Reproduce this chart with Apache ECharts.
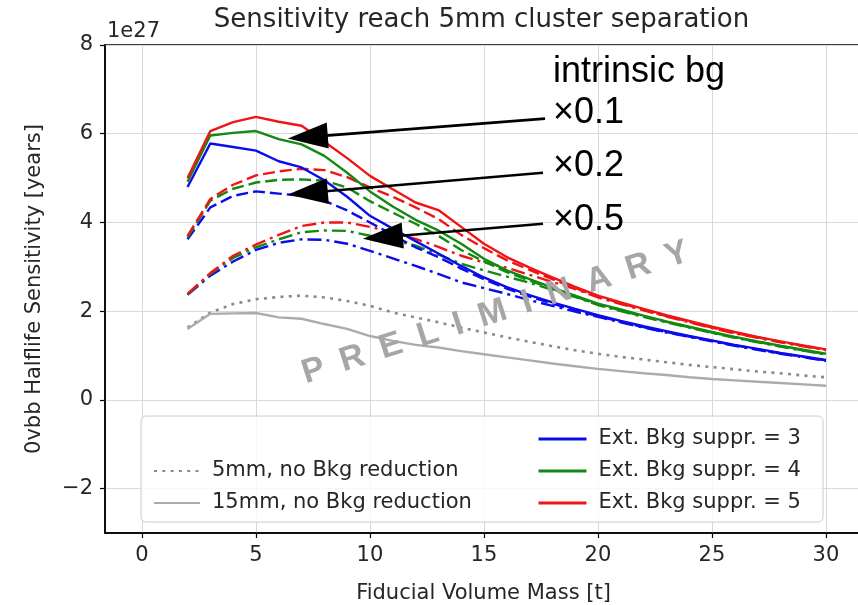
<!DOCTYPE html>
<html><head><meta charset="utf-8">
<script src="https://cdn.jsdelivr.net/npm/echarts@6/dist/echarts.min.js"></script>
<style>html,body{margin:0;padding:0;background:#fff}#c{width:858px;height:605px}</style>
</head><body><div id="c"></div>
<script>
// ---- data (values in units of 1e27 years) ----
const massT = [2,3,4,5,6,7,8,9,10,11,12,13,14,15,16,17,18,19,20,21,22,23,24,25,26,27,28,29,30];
const xTicks = [0,5,10,15,20,25,30];
const yTicks = [-2,0,2,4,6,8];
const supprLabels = ['Ext. Bkg suppr. = 3','Ext. Bkg suppr. = 4','Ext. Bkg suppr. = 5'];
const refLabels = ['5mm, no Bkg reduction','15mm, no Bkg reduction'];

// intrinsic bg x0.1 (solid)
const blue01  = [4.80,5.78,5.70,5.62,5.38,5.24,4.95,4.58,4.15,3.86,3.58,3.30,3.02,2.76,2.54,2.36,2.20,2.05,1.91,1.78,1.66,1.55,1.44,1.34,1.24,1.15,1.06,0.98,0.90];
const green01 = [4.92,5.96,6.02,6.06,5.88,5.76,5.50,5.12,4.70,4.36,4.06,3.82,3.52,3.18,2.92,2.72,2.53,2.35,2.17,2.04,1.90,1.77,1.65,1.53,1.42,1.32,1.22,1.13,1.04];
const red01   = [5.00,6.06,6.26,6.38,6.27,6.18,5.82,5.45,5.05,4.75,4.45,4.28,3.90,3.52,3.22,2.98,2.76,2.55,2.35,2.20,2.05,1.91,1.78,1.65,1.53,1.42,1.32,1.23,1.14];
// intrinsic bg x0.2 (dashed)
const blue02  = [3.62,4.34,4.60,4.70,4.65,4.60,4.49,4.27,4.00,3.72,3.44,3.22,2.96,2.72,2.51,2.33,2.17,2.02,1.89,1.76,1.64,1.53,1.43,1.33,1.23,1.14,1.05,0.97,0.89];
const green02 = [3.66,4.49,4.76,4.90,4.96,4.97,4.94,4.79,4.48,4.22,3.97,3.70,3.38,3.12,2.88,2.69,2.50,2.33,2.15,2.02,1.88,1.76,1.64,1.52,1.41,1.31,1.21,1.12,1.03];
const red02   = [3.70,4.53,4.85,5.06,5.15,5.21,5.18,5.02,4.79,4.58,4.34,4.08,3.72,3.42,3.15,2.93,2.72,2.52,2.33,2.18,2.03,1.89,1.76,1.63,1.51,1.41,1.31,1.22,1.13];
// intrinsic bg x0.5 (dash-dot)
const blue05  = [2.37,2.80,3.12,3.38,3.54,3.62,3.61,3.52,3.36,3.19,3.02,2.84,2.65,2.52,2.39,2.25,2.12,1.99,1.87,1.75,1.63,1.52,1.42,1.32,1.22,1.13,1.04,0.96,0.88];
const green05 = [2.38,2.84,3.20,3.44,3.62,3.78,3.82,3.81,3.70,3.60,3.48,3.28,3.07,2.92,2.78,2.64,2.48,2.32,2.14,2.00,1.87,1.75,1.63,1.51,1.40,1.30,1.20,1.11,1.02];
const red05   = [2.39,2.86,3.25,3.50,3.72,3.92,4.00,4.00,3.90,3.78,3.63,3.45,3.25,3.10,2.98,2.82,2.66,2.50,2.31,2.16,2.02,1.88,1.75,1.62,1.50,1.40,1.30,1.21,1.12];
// no background reduction
const gray5mm  = [1.63,1.97,2.16,2.27,2.32,2.35,2.31,2.23,2.12,1.97,1.86,1.75,1.63,1.52,1.41,1.31,1.21,1.12,1.04,0.97,0.91,0.85,0.79,0.74,0.69,0.64,0.60,0.55,0.51];
const gray15mm = [1.60,1.94,1.95,1.96,1.86,1.83,1.71,1.60,1.44,1.33,1.24,1.18,1.10,1.03,0.96,0.89,0.82,0.76,0.70,0.65,0.60,0.56,0.51,0.47,0.44,0.41,0.38,0.35,0.32];

// annotations (data coordinates)
const annotTexts = ['intrinsic bg','×0.1','×0.2','×0.5'];
const annotAt = [[18.03,7.38],[18.03,6.46],[18.03,5.26],[18.03,4.06]];
const arrowTip = [[6.40,5.89],[6.40,4.63],[9.69,3.63]];
const arrowTail = [[17.68,6.34],[17.59,5.12],[17.59,3.97]];
const watermark = 'P\u2002R\u2002E\u2002L\u2002I\u2002M\u2002I\u2002N\u2002A\u2002R\u2002Y';
const watermarkAt = [15.5, 1.96];

// ---- styles ----
const FONT = 'DejaVu Sans';
const C = {blue:'#0b0bec', green:'#118a11', red:'#f01414'};
const DASH = [12,5], DASHDOT = [14,5,3,5], DOT = [3,5.3];
const pairs = arr => arr.map((v,i)=>[massT[i], v]);

function line(name, data, color, type, width, z){
  return {name, type:'line', data:pairs(data), symbol:'none', showSymbol:false, z:z||2,
    lineStyle:{color, width:width||2.4, type:type||'solid', cap:'butt'}, itemStyle:{color},
    emphasis:{disabled:true}, silent:true};
}

const series = [
  line(refLabels[0], gray5mm, '#8a8a8a', DOT, 2.6),
  line(refLabels[1], gray15mm, '#ababab', 'solid', 2.4),
  line('b05', blue05, C.blue, DASHDOT), line('g05', green05, C.green, DASHDOT), line('r05', red05, C.red, DASHDOT),
  line('b02', blue02, C.blue, DASH), line('g02', green02, C.green, DASH), line('r02', red02, C.red, DASH),
  line(supprLabels[0], blue01, C.blue), line(supprLabels[1], green01, C.green), line(supprLabels[2], red01, C.red),
];

const chart = echarts.init(document.getElementById('c'));
const legendText = {fontFamily:FONT, fontSize:21, color:'#262626', padding:[0,0,0,7], lineHeight:22};
chart.setOption({
  animation:false,
  backgroundColor:'#fff',
  grid:{left:105, top:45, right:-4, bottom:72, outerBoundsMode:'none', containLabel:false,
    show:true, borderColor:'#000', borderWidth:1.5, backgroundColor:'transparent'},
  xAxis:{type:'value', min:-1.62, max:31.58,
    name:'Fiducial Volume Mass [t]', nameLocation:'middle', nameGap:50,
    nameTextStyle:{fontFamily:FONT, fontSize:21, color:'#262626'},
    axisLine:{show:true, onZero:false, lineStyle:{color:'#000', width:1.5}},
    axisTick:{show:true, length:5, lineStyle:{color:'#000', width:1.2}, customValues:xTicks},
    axisLabel:{fontFamily:FONT, fontSize:21, color:'#262626', margin:12, customValues:xTicks},
    splitLine:{show:true, lineStyle:{color:'#d9d9d9', width:1}}},
  yAxis:{type:'value', min:-3, max:8,
    name:'0vbb Halflife Sensitivity [years]', nameLocation:'middle', nameGap:60,
    nameTextStyle:{fontFamily:FONT, fontSize:21, color:'#262626'},
    axisLine:{show:true, onZero:false, lineStyle:{color:'#000', width:1.5}},
    axisTick:{show:true, length:5, lineStyle:{color:'#000', width:1.2}, customValues:yTicks},
    axisLabel:{fontFamily:FONT, fontSize:21, color:'#262626', margin:12, customValues:yTicks,
      formatter:v => v<0 ? '\u2212'+Math.abs(v) : String(v)},
    splitLine:{show:true, lineStyle:{color:'#d9d9d9', width:1}}},
  legend:[
    {data:refLabels, orient:'vertical', left:148, top:455, itemWidth:46, itemHeight:14, itemGap:10,
     itemStyle:{opacity:0}, textStyle:legendText, selectedMode:false, z:6},
    {data:supprLabels, orient:'vertical', left:532, top:423, itemWidth:48, itemHeight:14, itemGap:10,
     itemStyle:{opacity:0}, lineStyle:{width:3}, textStyle:legendText, selectedMode:false, z:6}
  ],
  series
});

function px(p){ return chart.convertToPixel({gridIndex:0}, p); }
const g = [];
const gr = chart.getModel().getComponent('grid',0).coordinateSystem.getRect();
g.push({type:'text', x:(gr.x+858)/2, y:20, z:20, style:{text:'Sensitivity reach 5mm cluster separation',
  fontFamily:FONT, fontSize:26, fill:'#262626', align:'center', verticalAlign:'middle'}});
g.push({type:'text', x:gr.x+2, y:gr.y-3, z:20, style:{text:'1e27', fontFamily:FONT, fontSize:21, fill:'#262626', align:'left', verticalAlign:'bottom'}});
g.push({type:'rect', z:5, shape:{x:141, y:416, width:682, height:106, r:5},
  style:{fill:'rgba(255,255,255,0.8)', stroke:'#cccccc', lineWidth:1}});
annotTexts.forEach((t,i)=>{
  const p = px(annotAt[i]);
  g.push({type:'text', x:p[0], y:p[1], z:20, style:{text:t, fontFamily:'Liberation Sans', fontSize:36, fill:'#000', align:'left', verticalAlign:'middle'}});
});
arrowTip.forEach((tip,i)=>{
  const T = px(tip), E = px(arrowTail[i]);
  const dx = E[0]-T[0], dy = E[1]-T[1], L = Math.hypot(dx,dy);
  const ux = dx/L, uy = dy/L, nx = -uy, ny = ux;
  const HL = 40, HW = 13;
  const B = [T[0]+ux*HL, T[1]+uy*HL];
  g.push({type:'line', z:20, shape:{x1:B[0]-ux*2, y1:B[1]-uy*2, x2:E[0], y2:E[1]}, style:{stroke:'#000', lineWidth:2.6}});
  g.push({type:'polygon', z:20, shape:{points:[T,[B[0]+nx*HW,B[1]+ny*HW],[B[0]-nx*HW,B[1]-ny*HW]]}, style:{fill:'#000'}});
});
const wp = px(watermarkAt);
g.push({type:'text', x:wp[0], y:wp[1], rotation:0.31, z:25, style:{text:watermark, fontFamily:'Liberation Sans', fontWeight:'bold', fontSize:34, fill:'#a6a6a6', align:'center', verticalAlign:'middle'}});
chart.setOption({graphic:g});
</script></body></html>
